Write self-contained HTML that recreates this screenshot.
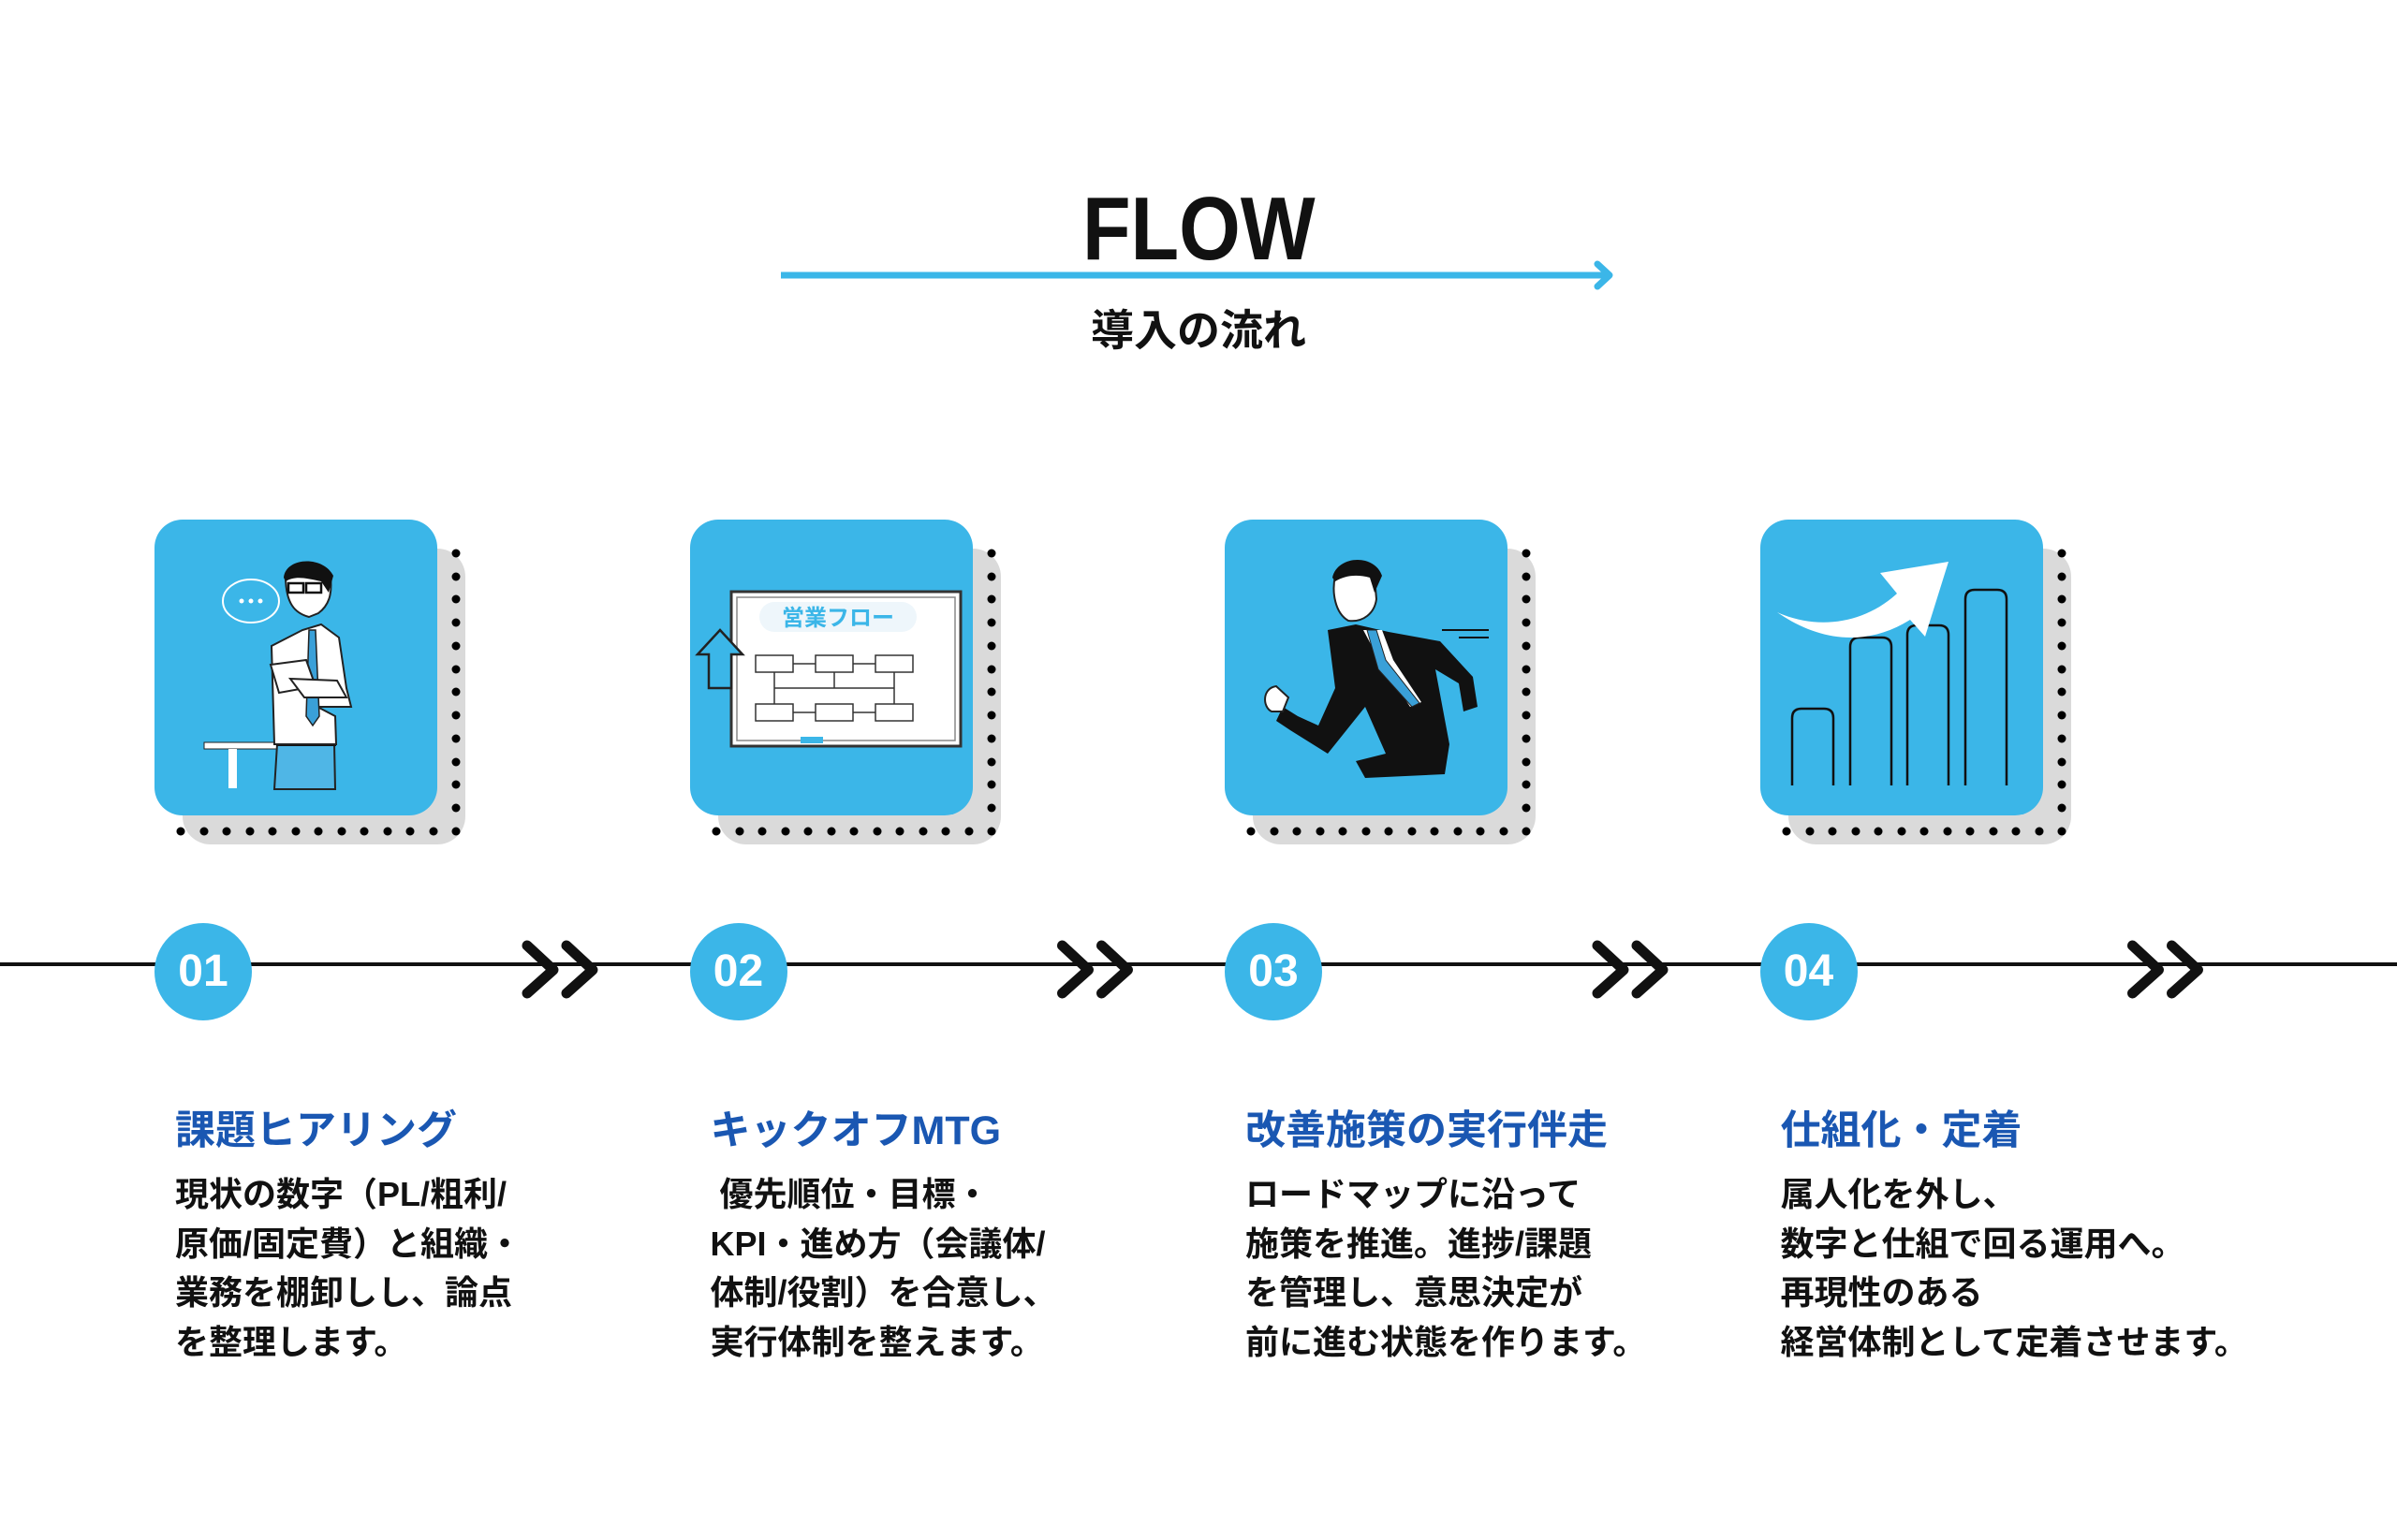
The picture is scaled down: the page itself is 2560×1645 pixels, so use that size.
<!DOCTYPE html>
<html><head><meta charset="utf-8">
<style>
*{margin:0;padding:0;box-sizing:border-box}
body{width:2560px;height:1645px;background:#fff;position:relative;overflow:hidden;font-family:"Liberation Sans","Noto Sans CJK JP",sans-serif}
.abs{position:absolute}
.ttl{left:0;width:2560px;text-align:center;font-weight:bold;color:#111}
.gray{background:#dadada;border-radius:30px;width:302px;height:316px}
.box{background:#3bb6e8;border-radius:30px;width:302px;height:316px;overflow:hidden}
.circ{width:104px;height:104px;border-radius:52px;background:#3bb6e8;color:#fff;font-weight:bold;font-size:48px;line-height:104px;text-align:center}
.h{font-size:43px;font-weight:bold;color:#1a57b2;white-space:pre;line-height:60px}
.b{font-size:36px;font-weight:bold;color:#111;white-space:pre;line-height:52.5px}
</style></head><body>

<div class="abs ttl" style="top:190px;font-size:96px;line-height:110px"><span style="display:inline-block;transform:scaleX(0.88)">FLOW</span></div>
<svg class="abs" style="left:0;top:0" width="2560" height="1645">
<line x1="834" y1="294" x2="1716" y2="294" stroke="#3bb6e8" stroke-width="7"/>
<polyline points="1706,282 1719,294 1706,306" fill="none" stroke="#3bb6e8" stroke-width="7" stroke-linecap="round" stroke-linejoin="round"/>
<line x1="0" y1="1030" x2="2560" y2="1030" stroke="#111" stroke-width="4"/>
<g fill="none" stroke="#111" stroke-width="11" stroke-linecap="round" stroke-linejoin="round">
<g id="chev"><polyline points="563,1010 591,1036 563,1061"/><polyline points="605,1010 633,1036 605,1061"/></g>
<use href="#chev" x="571.5"/><use href="#chev" x="1143"/><use href="#chev" x="1714.5"/>
</g>
</svg>
<div class="abs ttl" style="top:320px;font-size:46px;line-height:66px">導入の流れ</div>

<!-- card 1 -->
<div class="abs gray" style="left:195px;top:586px"></div>
<svg class="abs" style="left:180px;top:580px" width="320" height="320"><use href="#dots1"/></svg>
<div class="abs box" style="left:165px;top:555px">
<svg width="302" height="316">
<ellipse cx="103" cy="87" rx="30" ry="23" fill="none" stroke="#fff" stroke-width="2"/>
<g fill="#fff"><circle cx="93" cy="87" r="2.5"/><circle cx="103" cy="87" r="2.5"/><circle cx="113" cy="87" r="2.5"/></g>
<rect x="53" y="238" width="80" height="7" fill="#fff" stroke="#222"/><rect x="79" y="245" width="9" height="42" fill="#fff"/>
<path d="M128 288 L131 240 L192 240 L193 288Z" fill="#4fb6e6" stroke="#222" stroke-width="2"/>
<rect x="130" y="234" width="64" height="8" fill="#111"/>
<path d="M128 240 L125 135 L158 118 L178 112 L197 126 L205 180 L210 200 L174 200 L193 210 L194 240 Z" fill="#fff" stroke="#222" stroke-width="2"/>
<path d="M140 60 C145 45 180 42 188 62 C190 80 186 92 175 100 L165 104 C150 100 140 90 140 60Z" fill="#fff" stroke="#222" stroke-width="2"/>
<path d="M138 62 C140 40 180 38 191 60 L186 78 L178 66 C160 62 150 60 140 66Z" fill="#111"/>
<rect x="143" y="68" width="16" height="10" fill="none" stroke="#111" stroke-width="2.5"/><rect x="162" y="68" width="16" height="10" fill="none" stroke="#111" stroke-width="2.5"/>
<path d="M165 118 L172 118 L176 210 L169 220 L162 210Z" fill="#3aa0d8" stroke="#222" stroke-width="1.5"/>
<path d="M124 155 L162 150 L172 178 L133 185Z" fill="#fff" stroke="#222" stroke-width="2"/>
<path d="M145 170 L195 172 L205 190 L160 190Z" fill="#fff" stroke="#222" stroke-width="2"/>
</svg></div>
<div class="abs circ" style="left:165px;top:986px">01</div>
<div class="abs h" style="left:187px;top:1178px">課題ヒアリング</div>
<div class="abs b" style="left:187px;top:1250px">現状の数字（PL/粗利/
原価/固定費）と組織・
業務を棚卸しし、論点
を整理します。</div>

<!-- card 2 -->
<div class="abs gray" style="left:766.5px;top:586px"></div>
<svg class="abs" style="left:751.5px;top:580px" width="320" height="320"><use href="#dots1"/></svg>
<div class="abs box" style="left:736.5px;top:555px">
<svg width="302" height="316">
<rect x="44" y="77" width="245" height="165" fill="#fff" stroke="#333" stroke-width="3"/>
<rect x="50" y="83" width="233" height="153" fill="none" stroke="#888" stroke-width="1.5"/>
<rect x="74" y="88" width="168" height="32" rx="16" fill="#eef6fb"/>
<text x="158" y="113" text-anchor="middle" font-size="24" font-weight="bold" fill="#3bb6e8" font-family="Liberation Sans,Noto Sans CJK JP,sans-serif">営業フロー</text>
<g fill="#fff" stroke="#333" stroke-width="1.5">
<rect x="70" y="145" width="40" height="18"/><rect x="134" y="145" width="40" height="18"/><rect x="198" y="145" width="40" height="18"/>
<rect x="70" y="197" width="40" height="18"/><rect x="134" y="197" width="40" height="18"/><rect x="198" y="197" width="40" height="18"/></g>
<g stroke="#333" stroke-width="1.5" fill="none"><path d="M110 154H134M174 154H198M90 163V197M218 163V197M110 206H134M174 206H198M154 163V180H90M154 180H218"/></g>
<rect x="118" y="232" width="24" height="7" fill="#3bb6e8"/>
<path d="M8 144 L32 118 L56 144 L44 144 L44 180 L20 180 L20 144Z" fill="#3bb6e8" stroke="#222" stroke-width="2.5"/>
</svg></div>
<div class="abs circ" style="left:736.5px;top:986px">02</div>
<div class="abs h" style="left:758.5px;top:1178px">キックオフMTG</div>
<div class="abs b" style="left:758.5px;top:1250px"> 優先順位・目標・
KPI・進め方（会議体/
体制/役割）を合意し、
実行体制を整えます。</div>

<!-- card 3 -->
<div class="abs gray" style="left:1338px;top:586px"></div>
<svg class="abs" style="left:1323px;top:580px" width="320" height="320"><use href="#dots1"/></svg>
<div class="abs box" style="left:1308px;top:555px">
<svg width="302" height="316">
<path d="M110 118 L140 112 L175 120 L230 130 L265 168 L270 200 L255 205 L250 175 L225 160 L240 240 L235 272 L150 276 L140 258 L172 250 L150 200 L110 250 L70 225 L55 215 L62 200 L78 210 L100 220 L118 180 Z" fill="#111"/>
<path d="M148 118 L168 118 L180 150 L210 195 L198 200 L165 150Z" fill="#fff"/>
<path d="M152 118 L162 118 L172 150 L208 196 L200 200 L164 160Z" fill="#3aa0d8" stroke="#222"/>
<path d="M118 60 C125 45 155 45 160 62 L162 85 C160 100 148 110 132 108 C118 100 114 78 118 60Z" fill="#fff" stroke="#222" stroke-width="2"/>
<path d="M115 62 C120 38 160 36 168 60 L160 78 L155 62 C140 58 128 60 118 66Z" fill="#111"/>
<path d="M50 205 C40 200 40 180 55 178 L68 190 L62 205Z" fill="#fff" stroke="#222" stroke-width="2"/>
<line x1="232" y1="118" x2="282" y2="118" stroke="#111" stroke-width="2"/><line x1="250" y1="126" x2="282" y2="126" stroke="#111" stroke-width="2"/>
</svg></div>
<div class="abs circ" style="left:1308px;top:986px">03</div>
<div class="abs h" style="left:1330px;top:1178px">改善施策の実行伴走</div>
<div class="abs b" style="left:1330px;top:1250px">ロードマップに沿って
施策を推進。進捗/課題
を管理し、意思決定が
前に進む状態を作ります。</div>

<!-- card 4 -->
<div class="abs gray" style="left:1909.5px;top:586px"></div>
<svg class="abs" style="left:1894.5px;top:580px" width="320" height="320"><use href="#dots1"/></svg>
<div class="abs box" style="left:1879.5px;top:555px">
<svg width="302" height="316">
<g fill="none" stroke="#111" stroke-width="2.5">
<path d="M34 284 V212 Q34 202 44 202 H68 Q78 202 78 212 V284"/>
<path d="M96 284 V136 Q96 126 106 126 H130 Q140 126 140 136 V284"/>
<path d="M157 284 V123 Q157 113 167 113 H191 Q201 113 201 123 V284"/>
<path d="M219 284 V85 Q219 75 229 75 H253 Q263 75 263 85 V284"/>
</g>
<path d="M18 99 C60 118 110 112 146 79 L128 57 L201 45 L176 125 L160 107 C110 138 60 128 18 99Z" fill="#fff"/>
</svg></div>
<div class="abs circ" style="left:1879.5px;top:986px">04</div>
<div class="abs h" style="left:1901.5px;top:1178px">仕組化・定着</div>
<div class="abs b" style="left:1901.5px;top:1250px">属人化を外し、
数字と仕組で回る運用へ。
再現性のある
経営体制として定着させます。</div>

<svg width="0" height="0" style="position:absolute"><defs><g id="dots1" fill="#000">
<circle cx="307" cy="11" r="4.5"/><circle cx="307" cy="36" r="4.5"/><circle cx="307" cy="60" r="4.5"/><circle cx="307" cy="85" r="4.5"/><circle cx="307" cy="110" r="4.5"/><circle cx="307" cy="135" r="4.5"/><circle cx="307" cy="159" r="4.5"/><circle cx="307" cy="184" r="4.5"/><circle cx="307" cy="209" r="4.5"/><circle cx="307" cy="234" r="4.5"/><circle cx="307" cy="258" r="4.5"/><circle cx="307" cy="283" r="4.5"/><circle cx="307" cy="308" r="4.5"/>
<circle cx="13" cy="308" r="4.5"/><circle cx="38" cy="308" r="4.5"/><circle cx="62" cy="308" r="4.5"/><circle cx="87" cy="308" r="4.5"/><circle cx="111" cy="308" r="4.5"/><circle cx="136" cy="308" r="4.5"/><circle cx="160" cy="308" r="4.5"/><circle cx="185" cy="308" r="4.5"/><circle cx="209" cy="308" r="4.5"/><circle cx="234" cy="308" r="4.5"/><circle cx="258" cy="308" r="4.5"/><circle cx="283" cy="308" r="4.5"/></g></defs></svg>
</body></html>
